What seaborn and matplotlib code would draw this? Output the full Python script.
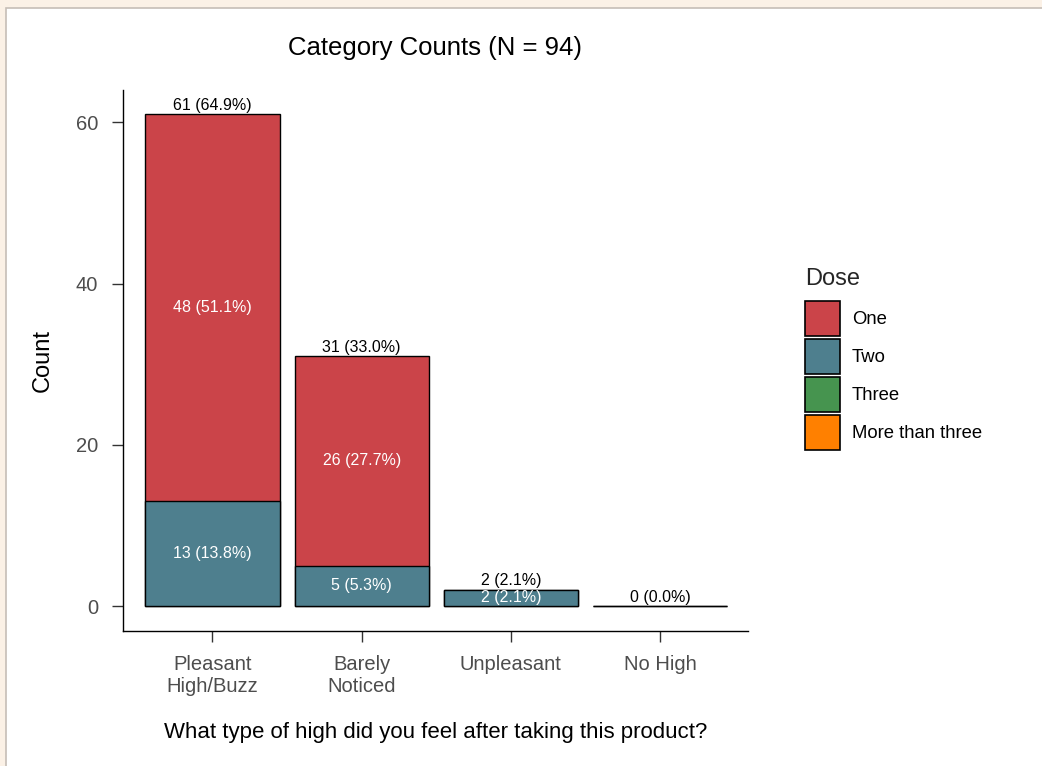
import matplotlib
matplotlib.use("Agg")
import matplotlib.pyplot as plt
import matplotlib.patches as mpatches
import seaborn as sns
import pandas as pd

categories = ["Pleasant\nHigh/Buzz", "Barely\nNoticed", "Unpleasant", "No High"]
dose_labels = ["One", "Two", "Three", "More than three"]
count_one = [48, 26, 0, 0]
count_two = [13, 5, 2, 0]
count_three = [0, 0, 0, 0]
count_more = [0, 0, 0, 0]
dose_colors = ["#CB4449", "#4E7F8E", "#46944F", "#FF8000"]

N = sum(count_one) + sum(count_two) + sum(count_three) + sum(count_more)
totals = [a + b + c + d for a, b, c, d in zip(count_one, count_two, count_three, count_more)]

sns.set_style("ticks")
plt.rcParams["font.family"] = ["Liberation Sans", "DejaVu Sans"]

fig = plt.figure(figsize=(10.42, 7.66), dpi=100)
fig.patch.set_facecolor("#FBF1E6")
# white panel with grey frame
panel = mpatches.Rectangle((6 / 1042, -0.01), 1.0, 1 - 8 / 766 + 0.01, transform=fig.transFigure,
                           facecolor="white", edgecolor="#C6BEB6", linewidth=1.2, zorder=-10)
fig.patches.append(panel)

ax = fig.add_axes([123 / 1042, 1 - 631 / 766, (748 - 123) / 1042, (631 - 90) / 766])
ax.set_facecolor("white")
ax.set_zorder(1)

df = pd.DataFrame({"cat": categories, "total": totals, "two": count_two, "one": count_one})

# stacked: total (red) then bottom segment Two (teal)
sns.barplot(data=df, x="cat", y="total", color=dose_colors[0], width=0.9,
            edgecolor="black", linewidth=1.0, saturation=1, ax=ax)
sns.barplot(data=df, x="cat", y="two", color=dose_colors[1], width=0.9,
            edgecolor="black", linewidth=1.0, saturation=1, ax=ax)

ax.set_xlim(-0.6, 3.59)
ax.set_ylim(-3.1, 64)
ax.set_yticks([0, 20, 40, 60])

lab_fs = 11.5
for i in range(len(categories)):
    t = totals[i]
    ax.annotate(f"{t} ({t / N * 100:.1f}%)", (i, t), xytext=(0, 1.0), textcoords="offset points",
                ha="center", va="bottom", fontsize=lab_fs, color="black")
    two = count_two[i]
    one = count_one[i]
    if two > 0:
        ax.text(i, two / 2, f"{two} ({two / N * 100:.1f}%)", ha="center", va="center",
                fontsize=lab_fs, color="white")
    if one > 0:
        ax.text(i, two + one / 2, f"{one} ({one / N * 100:.1f}%)", ha="center", va="center",
                fontsize=lab_fs, color="white")

for s in ["top", "right"]:
    ax.spines[s].set_visible(False)
for s in ["left", "bottom"]:
    ax.spines[s].set_color("black")
    ax.spines[s].set_linewidth(1.0)

ax.tick_params(axis="both", which="both", direction="out", length=8, width=1.0,
               color="#333333", labelcolor="#4D4D4D", labelsize=14.5,
               bottom=True, left=True)
ax.tick_params(axis="x", pad=9)
ax.tick_params(axis="y", pad=10)
ax.set_ylabel("Count", fontsize=17, color="black", labelpad=16)
ax.set_xlabel("What type of high did you feel after taking this product?", fontsize=16,
              color="black", labelpad=19)
ax.set_title(f"Category Counts (N = {N})", fontsize=18.5, color="black", pad=25)

handles = [mpatches.Patch(facecolor=c, edgecolor="black", linewidth=1.2, label=l)
           for c, l in zip(dose_colors, dose_labels)]
leg = fig.legend(handles=handles, title="Dose", loc="upper left",
                 bbox_to_anchor=(798 / 1042, 1 - 261 / 766), frameon=False,
                 fontsize=13.3, title_fontsize=17, handlelength=1.88, handleheight=2.51,
                 labelspacing=0.18, handletextpad=0.65, borderaxespad=0, labelcolor="black")
leg._legend_box.align = "left"
leg._legend_box.sep = 8

fig.savefig("out.png", dpi=100, facecolor=fig.get_facecolor())
